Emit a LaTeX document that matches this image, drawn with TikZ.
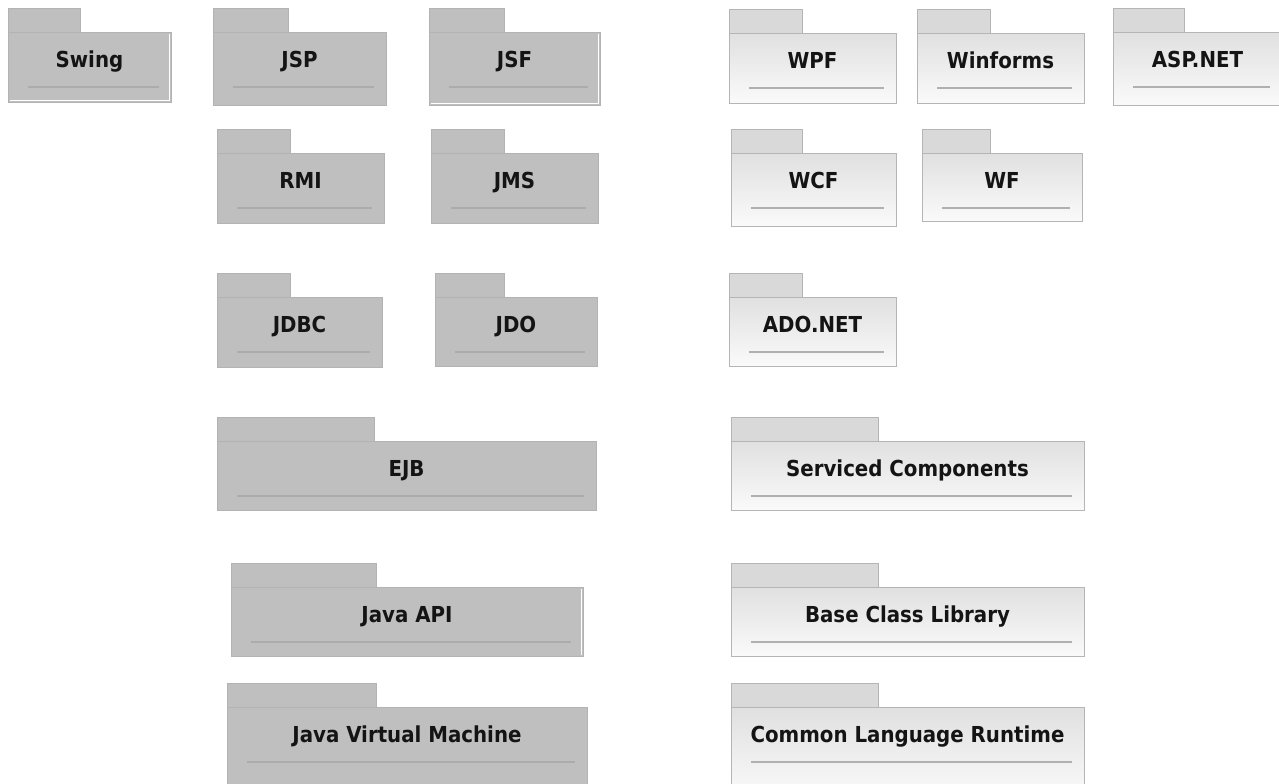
\documentclass[tikz,border=0pt]{standalone}
\usepackage{fontspec}
\setmainfont{DejaVu Sans Condensed}
\usepackage{tikz}
\definecolor{graybox}{HTML}{BFBFBF}
\definecolor{grayedge}{HTML}{B3B3B3}
\definecolor{grayline}{HTML}{ACACAC}
\definecolor{lighttabfill}{HTML}{D9D9D9}
\definecolor{lighttop}{HTML}{E0E0E0}
\definecolor{lightbot}{HTML}{FAFAFA}
\definecolor{lightedge}{HTML}{B5B5B5}
\definecolor{lightline}{HTML}{B0B0B0}
\definecolor{ink}{HTML}{141414}
\tikzset{
  graytab/.style={fill=graybox, draw=grayedge, line width=0.75pt},
  graybody/.style={fill=graybox, draw=grayedge, line width=0.75pt},
  grayrule/.style={draw=grayline, line width=1.2pt},
  lighttab/.style={fill=lighttabfill, draw=lightedge, line width=0.75pt},
  lightbody/.style={top color=lighttop, bottom color=lightbot, draw=lightedge, line width=0.75pt},
  lightrule/.style={draw=lightline, line width=1.3pt},
  hilite/.style={draw=white, line width=0.6pt},
  lab/.style={text=ink, font=\bfseries\fontsize{16.5}{19}\selectfont, inner sep=0pt},
}
% #1 look, #2 name, #3 left, #4 tab end, #5 right, #6 body top, #7 body height, #8 label
\newcommand{\pkg}[8]{%
  \draw[#1tab] (#3,#6-24) rectangle (#4,#6);
  \draw[#1body] (#3,#6) rectangle (#5,#6+#7);
  \draw[#1rule] (#3+20,#6+55) -- (#5-12,#6+55);
  \node[lab,anchor=base] (#2) at ({(#3+#5)/2},#6+35) {#8};
}

\begin{document}
\begin{tikzpicture}[x=0.75pt,y=-0.75pt]
  \fill[white] (0,0) rectangle (1279,783);
  \clip (0,0) rectangle (1279,783);
  % java side
  \pkg{gray}{swing}{8}{80}{171}{32}{70}{Swing}
  \draw[hilite] (169.5,33.5) -- (169.5,100.5) -- (9.5,100.5);
  \pkg{gray}{jsp}{213}{288}{386}{32}{73}{JSP}
  \pkg{gray}{jsf}{429}{504}{600}{32}{73}{JSF}
  \draw[hilite] (598.5,33.5) -- (598.5,103.5) -- (430.5,103.5);
  \pkg{gray}{rmi}{217}{290}{384}{153}{70}{RMI}
  \pkg{gray}{jms}{431}{504}{598}{153}{70}{JMS}
  \pkg{gray}{jdbc}{217}{290}{382}{297}{70}{JDBC}
  \pkg{gray}{jdo}{435}{504}{597}{297}{69}{JDO}
  \pkg{gray}{ejb}{217}{374}{596}{441}{69}{EJB}
  \pkg{gray}{javaapi}{231}{376}{583}{587}{69}{Java API}
  \draw[hilite] (581.5,588.5) -- (581.5,654.5);
  \pkg{gray}{jvm}{227}{376}{587}{707}{90}{Java Virtual Machine}
  % .net side
  \pkg{light}{wpf}{729}{802}{896}{33}{70}{WPF}
  \pkg{light}{winforms}{917}{990}{1084}{33}{70}{Winforms}
  \pkg{light}{aspnet}{1113}{1184}{1282}{32}{73}{ASP.NET}
  \pkg{light}{wcf}{731}{802}{896}{153}{73}{WCF}
  \pkg{light}{wf}{922}{990}{1082}{153}{68}{WF}
  \pkg{light}{adonet}{729}{802}{896}{297}{69}{ADO.NET}
  \pkg{light}{serviced}{731}{878}{1084}{441}{69}{Serviced Components}
  \pkg{light}{bcl}{731}{878}{1084}{587}{69}{Base Class Library}
  \pkg{light}{clr}{731}{878}{1084}{707}{90}{Common Language Runtime}
\end{tikzpicture}
\end{document}
